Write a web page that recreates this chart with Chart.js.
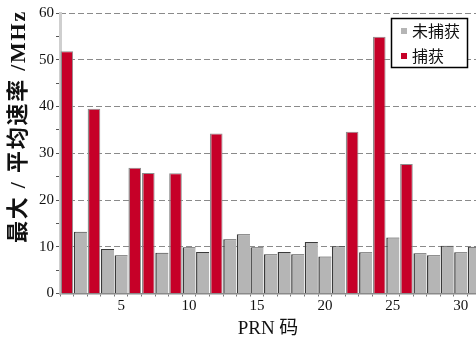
<!DOCTYPE html>
<html><head><meta charset="utf-8">
<script src="https://cdn.jsdelivr.net/npm/chart.js@4/dist/chart.umd.min.js"></script>
<style>html,body{margin:0;padding:0;background:#fff;overflow:hidden}#wrap{width:476px;height:340px}</style>
</head><body><div id="wrap"><canvas id="c" width="476" height="340"></canvas></div>
<script>
const prnCodes = [1,2,3,4,5,6,7,8,9,10,11,12,13,14,15,16,17,18,19,20,21,22,23,24,25,26,27,28,29,30,31];
const notCapturedValues = [null,13.2,null,9.5,8.2,null,null,8.7,null,9.9,8.9,null,11.6,12.7,9.9,8.4,8.9,8.4,11.0,7.9,10.1,null,8.8,null,12.0,null,8.6,8.2,10.2,8.8,10.0];
const capturedValues = [51.8,null,39.5,null,null,26.9,25.8,null,25.7,null,null,34.2,null,null,null,null,null,null,null,null,null,34.6,null,54.9,null,27.7,null,null,null,null,null];
const seriesNames = ['未捕获','捕获'];
const xTickLabels = [5,10,15,20,25,30];
const yTickLabels = [0,10,20,30,40,50,60];
const yTitle = '最大 / 平均速率 /MHz';
const xTitle = 'PRN 码';

const toPts = arr => prnCodes.map((p,i)=>({x:p,y:arr[i]})).filter(d=>d.y!==null);
const GRAY='#b5b5b5', RED='#c60028';

const legendBox = {
  id:'legendBox',
  afterDraw(chart){
    const c=chart.ctx; c.save();
    const x=391,y=18,w=76,h=49;
    c.fillStyle='#fff'; c.fillRect(x,y,w,h);
    c.strokeStyle='#000'; c.lineWidth=1.5; c.strokeRect(x+0.5,y+0.5,w,h);
    c.font='16px "Noto Sans CJK SC"'; c.textBaseline='middle'; c.fillStyle='#111';
    const cols=[GRAY,RED];
    chart.data.datasets.forEach((ds,i)=>{
      const yy = y+13+i*25;
      c.fillStyle=cols[i]; c.fillRect(x+10,yy-3,6,6);
      c.fillStyle='#111'; c.fillText(ds.label,x+21,yy);
    });
    c.restore();
  }
};
const leftAxis = {
  id:'leftAxis',
  beforeDatasetsDraw(chart){
    const a=chart.chartArea,c=chart.ctx; c.save();
    c.fillStyle='#cfcfcf'; c.fillRect(a.left-1,a.top-1,3,a.bottom-a.top+1);
    c.restore();
  }
};
const yTitlePlugin = {
  id:'yTitlePlugin',
  afterDraw(chart){
    const c=chart.ctx; c.save();
    c.font='bold 22px "Liberation Serif","Noto Sans CJK SC"';
    c.fillStyle='#111'; c.textBaseline='middle'; c.textAlign='left';
    const target=233;
    const w0=c.measureText(yTitle).width;
    const n=[...yTitle].length;
    const ls=Math.max(0,(target-w0)/n);
    if ('letterSpacing' in c) c.letterSpacing=ls.toFixed(2)+'px';
    c.translate(19,243); c.rotate(-Math.PI/2);
    c.fillText(yTitle,0,0);
    c.restore();
  }
};

new Chart(document.getElementById('c'),{
  type:'bar',
  data:{datasets:[
    {label:seriesNames[0],data:toPts(notCapturedValues),backgroundColor:GRAY,borderColor:'#3a3a3a',borderWidth:{left:1.5,top:1,right:0,bottom:0},borderSkipped:false,barPercentage:0.97,categoryPercentage:1},
    {label:seriesNames[1],data:toPts(capturedValues),backgroundColor:RED,borderColor:'#8e8e8e',borderWidth:{left:1.5,top:1,right:1,bottom:0},borderSkipped:false,barPercentage:0.93,categoryPercentage:1}
  ]},
  options:{
    responsive:false,animation:false,
    layout:{padding:{top:13,right:0,left:0,bottom:0}},
    plugins:{legend:{display:false},tooltip:{enabled:false}},
    scales:{
      x:{type:'linear',stacked:true,min:0.5,max:31.12,offset:false,
        ticks:{stepSize:1,includeBounds:false,autoSkip:false,maxRotation:0,padding:1,color:'#111',
          font:{family:'"Liberation Serif"',size:15},
          callback:v=>xTickLabels.includes(v)?String(v):''},
        grid:{drawOnChartArea:false,tickLength:3,tickColor:'#777'},
        border:{color:'#8a8a8a',width:1.5},
        title:{display:true,text:xTitle,color:'#111',font:{family:'"Liberation Serif","Noto Sans CJK SC"',size:19},padding:{top:0,bottom:0}},
        afterFit:s=>{s.height=46.5;}
      },
      y:{stacked:true,min:0,max:60,
        ticks:{stepSize:5,autoSkip:false,padding:2,color:'#111',font:{family:'"Liberation Serif"',size:15},
          callback:v=>yTickLabels.includes(v)?String(v):''},
        grid:{color:ctx=>(ctx.tick&&ctx.tick.value%10===0&&ctx.tick.value>0)?'#8a8a8a':'rgba(0,0,0,0)',
          tickColor:'#555',tickLength:4,lineWidth:1},
        border:{display:false,dash:[6,3]},
        title:{display:false},
        afterFit:s=>{s.width=60;}
      }
    }
  },
  plugins:[leftAxis,legendBox,yTitlePlugin]
});
</script></body></html>
